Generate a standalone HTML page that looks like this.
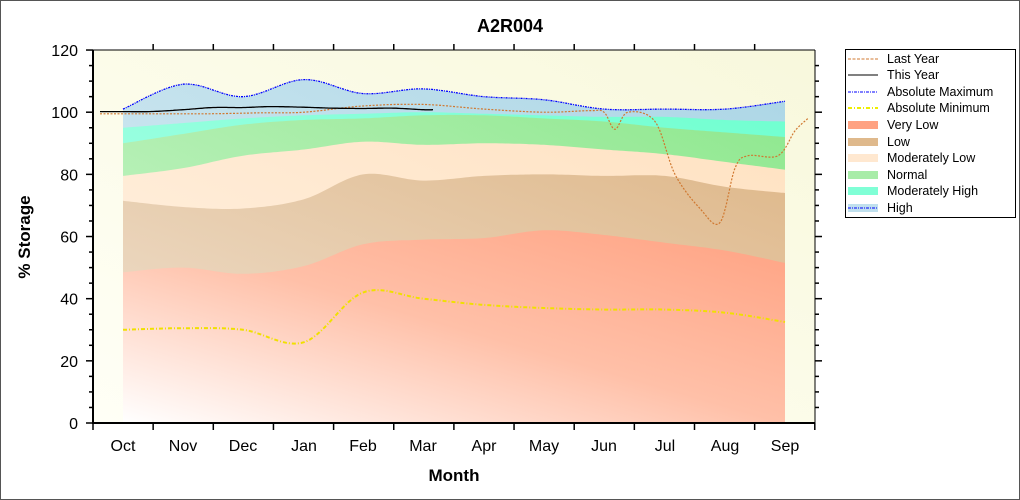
<!DOCTYPE html>
<html><head><meta charset="utf-8"><style>
html,body{margin:0;padding:0;background:#fff}
svg{display:block;font-family:"Liberation Sans",Arial,sans-serif}
</style></head><body>
<svg id="s" width="1020" height="500" viewBox="0 0 1020 500" xmlns="http://www.w3.org/2000/svg">
<defs>
<linearGradient id="bg" x1="0" y1="1" x2="1" y2="0"><stop offset="0" stop-color="#fffff6"/><stop offset="1" stop-color="#f8f8dc"/></linearGradient>
<linearGradient id="vl" x1="0" y1="1" x2="1" y2="0"><stop offset="0" stop-color="#ffffff"/><stop offset="0.5" stop-color="#ffc0a8"/><stop offset="1" stop-color="#ffa282"/></linearGradient>
<linearGradient id="lo" x1="0" y1="1" x2="1" y2="0"><stop offset="0" stop-color="#f0e2d2"/><stop offset="1" stop-color="#dfb98c"/></linearGradient>
<linearGradient id="ml" x1="0" y1="1" x2="1" y2="0"><stop offset="0" stop-color="#fff3e6"/><stop offset="1" stop-color="#ffe2c2"/></linearGradient>
<linearGradient id="no" x1="0" y1="1" x2="1" y2="0"><stop offset="0" stop-color="#d0f5d0"/><stop offset="1" stop-color="#8fe88f"/></linearGradient>
<linearGradient id="mh" x1="0" y1="1" x2="1" y2="0"><stop offset="0" stop-color="#b8ffec"/><stop offset="1" stop-color="#70ffd0"/></linearGradient>
<linearGradient id="hi" x1="0" y1="1" x2="1" y2="0"><stop offset="0" stop-color="#dceef4"/><stop offset="1" stop-color="#acd6e6"/></linearGradient>
</defs>
<rect x="0.5" y="0.5" width="1019" height="499" fill="#fff" stroke="#555"/>
<text x="510" y="32" text-anchor="middle" font-size="18" font-weight="bold">A2R004</text>
<rect x="93" y="50" width="722" height="373" fill="url(#bg)"/>
<g id="bands"></g>
<g id="lines"></g>
<g id="axes" stroke="#000" stroke-width="2" fill="none">
<line x1="93" y1="50" x2="93" y2="424"/><line x1="93" y1="423" x2="815" y2="423"/>
<line x1="815" y1="50" x2="815" y2="424" stroke-width="1"/><line x1="93" y1="50" x2="815" y2="50" stroke-width="1"/>
</g>
<g id="ticks" stroke="#000" stroke-width="1.5"></g>
<g id="labels" font-size="16" fill="#000"></g>
<text x="454" y="481" text-anchor="middle" font-size="17" font-weight="bold">Month</text>
<text transform="translate(30,237) rotate(-90)" text-anchor="middle" font-size="17" font-weight="bold">% Storage</text>
<g font-size="12.5">
<rect x="845.5" y="49.5" width="170" height="168" fill="#fff" stroke="#000"/>
<line x1="848" y1="59" x2="878" y2="59" stroke="#d07830" stroke-dasharray="3,1.5"/><text x="887" y="63">Last Year</text>
<line x1="848" y1="75" x2="878" y2="75" stroke="#000"/><text x="887" y="79">This Year</text>
<line x1="848" y1="92" x2="878" y2="92" stroke="#00f" stroke-dasharray="3,1,1,1"/><text x="887" y="96">Absolute Maximum</text>
<line x1="848" y1="108" x2="878" y2="108" stroke="#ee0" stroke-width="2" stroke-dasharray="4,2,1,2"/><text x="887" y="112">Absolute Minimum</text>
<rect x="848" y="121" width="30" height="8" fill="#ffa282"/><text x="887" y="129">Very Low</text>
<rect x="848" y="138" width="30" height="8" fill="#dfb98c"/><text x="887" y="146">Low</text>
<rect x="848" y="154" width="30" height="8" fill="#ffe8d0"/><text x="887" y="162">Moderately Low</text>
<rect x="848" y="171" width="30" height="8" fill="#a8eca8"/><text x="887" y="179">Normal</text>
<rect x="848" y="187" width="30" height="8" fill="#80ffd6"/><text x="887" y="195">Moderately High</text>
<rect x="848" y="204" width="30" height="8" fill="#c0e0ee"/><line x1="848" y1="208" x2="878" y2="208" stroke="#00f" stroke-dasharray="3,1,1,1"/><text x="887" y="212">High</text>
</g>
</svg>
<script>
var NS="http://www.w3.org/2000/svg";
function Y(v){return 423-3.108*v;}
var MX=[123,183,243,304,363,423,484,544,604,665,725,785];
function smooth(xs,vs){ // catmull-rom sampled points
  var pts=[];var n=xs.length;
  for(var i=0;i<n-1;i++){
    var p0=[xs[Math.max(0,i-1)],vs[Math.max(0,i-1)]],p1=[xs[i],vs[i]],p2=[xs[i+1],vs[i+1]],p3=[xs[Math.min(n-1,i+2)],vs[Math.min(n-1,i+2)]];
    for(var t=0;t<1;t+=0.05){
      var t2=t*t,t3=t2*t;
      var f=function(a,b,c,d){return 0.5*((2*b)+(-a+c)*t+(2*a-5*b+4*c-d)*t2+(-a+3*b-3*c+d)*t3);};
      pts.push([f(p0[0],p1[0],p2[0],p3[0]),f(p0[1],p1[1],p2[1],p3[1])]);
    }
  }
  pts.push([xs[n-1],vs[n-1]]);return pts;
}
function el(t,a,p){var e=document.createElementNS(NS,t);for(var k in a)e.setAttribute(k,a[k]);document.getElementById(p).appendChild(e);return e;}
function ps(pts){return pts.map(function(p){return p[0].toFixed(1)+","+Y(p[1]).toFixed(1);}).join(" ");}
var amax=[101,109,105,110.5,106,107.5,105,104,101,101,101,103.5];
var mh=[95,96.5,98,99,99.5,100,99.5,99,98.5,98.5,97.5,97];
var no=[90,93,96,97.5,98,99,99,98,97,95,93.5,92];
var ml=[79.5,82,86,88,90.5,89.5,90,89.5,88,86.5,84,81.5];
var lo=[71.5,69.5,69,72,80,78,79.5,80,79.5,79.5,76,74];
var vl=[48.5,50,48,50.5,57.5,59,59.5,62,60.5,58,55.5,51.5];
var amin=[30,30.5,30,26,42,40,38,37,36.5,36.5,35.5,32.5];
var bands=[[amax,"url(#hi)"],[mh,"url(#mh)"],[no,"url(#no)"],[ml,"url(#ml)"],[lo,"url(#lo)"],[vl,"url(#vl)"]];
bands.forEach(function(b){
  var p=smooth(MX,b[0]);
  el("polygon",{points:ps(p)+" 785,423 123,423",fill:b[1]},"bands");
});
// abs min
el("polyline",{points:ps(smooth(MX,amin)),fill:"none",stroke:"#f0e000","stroke-width":2,"stroke-dasharray":"4,2,1,2"},"lines");
el("polyline",{points:ps(smooth(MX,amax)),fill:"none",stroke:"#00f","stroke-width":1.3,"stroke-dasharray":"2,1,1,1"},"lines");
// last year
var lyx=[100,150,210,260,304,363,423,484,544,590,604,615,628,655,675,700,720,735,748,778,795,808];
var lyv=[99.5,99.5,99.5,99.8,100,102,102.5,101,100,100.5,100,94.5,100,97,80,69,64.5,82,86,86,94,98];
el("polyline",{points:ps(smooth(lyx,lyv)),fill:"none",stroke:"#d07830","stroke-width":1.2,"stroke-dasharray":"2,1.5"},"lines");
// this year
var tyx=[100,123,150,183,213,243,270,304,333,363,393,423,433];
var tyv=[100.2,100.2,100.2,100.8,101.5,101.5,101.8,101.6,101.3,101.2,101.3,100.8,100.8];
el("polyline",{points:ps(smooth(tyx,tyv)),fill:"none",stroke:"#000","stroke-width":1.3},"lines");
// ticks
for(var v=0;v<=120;v+=20){var y=Y(v);el("line",{x1:86,y1:y,x2:93,y2:y},"ticks");
 var t=el("text",{x:78,y:y+6,"text-anchor":"end"},"labels");t.textContent=v;}
for(var v=5;v<120;v+=5){if(v%20==0)continue;var y=Y(v);el("line",{x1:89,y1:y,x2:93,y2:y},"ticks");el("line",{x1:815,y1:y,x2:819,y2:y},"ticks");}
for(var v=20;v<120;v+=20){var y=Y(v);el("line",{x1:815,y1:y,x2:822,y2:y},"ticks");}
var names=["Oct","Nov","Dec","Jan","Feb","Mar","Apr","May","Jun","Jul","Aug","Sep"];
for(var i=0;i<12;i++){var t=el("text",{x:MX[i],y:451,"text-anchor":"middle"},"labels");t.textContent=names[i];}
for(var i=0;i<=12;i++){var x=93+60.15*i;el("line",{x1:x,y1:423,x2:x,y2:430},"ticks");if(i>0&&i<12)el("line",{x1:x,y1:50,x2:x,y2:44},"ticks");}
</script>
</body></html>
